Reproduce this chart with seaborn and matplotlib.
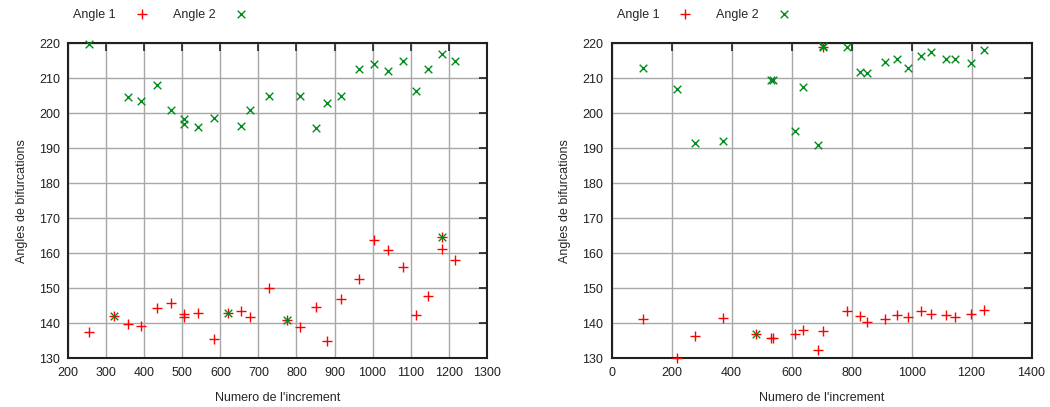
import matplotlib
matplotlib.use("Agg")
import matplotlib.pyplot as plt
import seaborn as sns
import numpy as np

# data
# left panel
inc_left = [255, 319, 358, 392, 433, 470, 503, 504, 540, 584, 621, 653, 678, 727,
            775, 810, 850, 879, 917, 965, 1004, 1040, 1080, 1113, 1146, 1183, 1183, 1217]
angle1_left = [137.4, 142.0, 139.9, 139.3, 144.3, 145.9, 142.5, 141.8, 142.9, 135.4,
               142.9, 143.5, 141.9, 150.0, 140.9, 138.9, 144.5, 134.9, 147.0, 152.6,
               163.9, 160.9, 156.0, 142.4, 147.9, 164.6, 161.1, 158.0]
angle2_left = [219.7, 142.0, 204.5, 203.5, 208.0, 201.0, 198.3, 197.0, 196.0, 198.5,
               142.9, 196.4, 201.0, 205.0, 140.9, 205.0, 195.7, 203.0, 205.0, 212.7,
               214.1, 212.1, 215.0, 206.4, 212.6, 164.6, 217.0, 215.0]

# right panel
inc_right = [104, 219, 277, 370, 482, 531, 539, 612, 637, 687, 706, 706, 783, 828,
             850, 912, 951, 987, 1033, 1064, 1114, 1144, 1198, 1240]
angle1_right = [141.2, 130.0, 136.3, 141.6, 136.9, 135.9, 135.9, 136.9, 138.1, 132.3,
                219.0, 137.9, 143.6, 142.1, 140.4, 141.3, 142.3, 141.8, 143.4, 142.5,
                142.3, 141.8, 142.6, 143.9]
angle2_right = [212.8, 207.0, 191.4, 192.0, 136.9, 209.5, 209.5, 195.0, 207.5, 191.0,
                219.0, 219.2, 218.8, 211.6, 211.4, 214.5, 215.5, 213.0, 216.4, 217.5,
                215.3, 215.3, 214.3, 218.1]

sns.set_style("white")
plt.rcParams["font.family"] = ["Liberation Sans", "DejaVu Sans"]
plt.rcParams["font.size"] = 9

fig = plt.figure(figsize=(10.5, 4.07), dpi=100)
ax1 = fig.add_axes([0.065, 0.1197, 0.3985, 0.7746])
ax2 = fig.add_axes([0.5826, 0.1197, 0.3998, 0.7746])

panels = [
    (ax1, inc_left, angle1_left, angle2_left, np.arange(200, 1301, 100), (200, 1300)),
    (ax2, inc_right, angle1_right, angle2_right, np.arange(0, 1401, 200), (0, 1400)),
]

for ax, x, a1, a2, xt, xl in panels:
    sns.scatterplot(x=x, y=a1, marker="+", color="#ff0000", s=45, linewidth=1.0,
                    label="Angle 1", ax=ax, clip_on=False, zorder=3)
    sns.scatterplot(x=x, y=a2, marker="x", color="#008a1a", s=30, linewidth=1.0,
                    label="Angle 2", ax=ax, clip_on=False, zorder=3)
    ax.set_xlim(*xl)
    ax.set_ylim(130, 220)
    ax.set_xticks(xt)
    ax.set_yticks(np.arange(130, 221, 10))
    ax.grid(True, color="#a8a8a8", linewidth=1.0)
    ax.set_axisbelow(True)
    for sp in ax.spines.values():
        sp.set_color("#202020")
        sp.set_linewidth(1.5)
    ax.tick_params(direction="in", length=5.8, width=1.2, top=True, right=True,
                   labelsize=9, colors="#202020")
    ax.tick_params(axis="x", pad=6.5)
    ax.tick_params(axis="y", pad=6)
    ax.set_xlabel("Numero de l'increment", fontsize=9, labelpad=9)
    ax.set_ylabel("Angles de bifurcations", fontsize=9, labelpad=8)
    ax.legend(loc="lower left", bbox_to_anchor=(0.0, 1.055), ncol=2, frameon=False,
              markerfirst=False, fontsize=9, handletextpad=1.56, columnspacing=1.98,
              handlelength=1.0, borderaxespad=0)

fig.savefig("out.png", dpi=100)
